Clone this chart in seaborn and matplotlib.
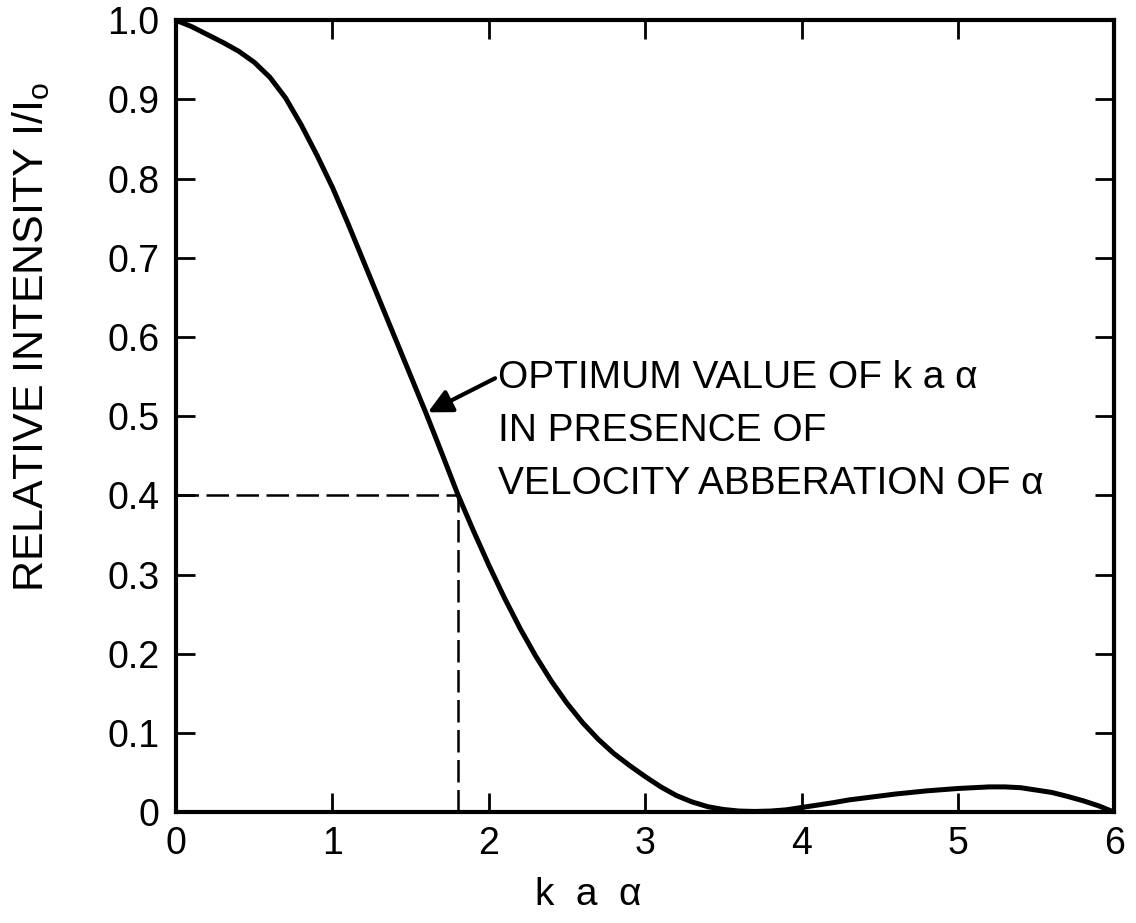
import matplotlib
matplotlib.use("Agg")
import matplotlib.pyplot as plt
import seaborn as sns
import pandas as pd

# Data
ka_alpha = [0.0, 0.1, 0.2, 0.3, 0.4, 0.5, 0.6, 0.7, 0.8, 0.9, 1.0,
            1.1, 1.2, 1.3, 1.4, 1.5, 1.6, 1.7, 1.8, 1.9, 2.0,
            2.1, 2.2, 2.3, 2.4, 2.5, 2.6, 2.7, 2.8, 2.9, 3.0,
            3.1, 3.2, 3.3, 3.4, 3.5, 3.6, 3.7, 3.8, 3.9, 4.0,
            4.1, 4.2, 4.3, 4.4, 4.5, 4.6, 4.7, 4.8, 4.9, 5.0,
            5.1, 5.2, 5.3, 5.4, 5.5, 5.6, 5.7, 5.8, 5.9, 6.0]
intensity = [1.0, 0.992, 0.982, 0.972, 0.961, 0.947, 0.928, 0.902, 0.868, 0.83, 0.789,
             0.743, 0.695, 0.647, 0.599, 0.551, 0.503, 0.453, 0.402, 0.356, 0.312,
             0.2705, 0.232, 0.197, 0.1655, 0.1375, 0.113, 0.092, 0.074, 0.059, 0.045,
             0.032, 0.021, 0.013, 0.007, 0.0035, 0.0015, 0.001, 0.0015, 0.003, 0.006,
             0.009, 0.012, 0.0155, 0.018, 0.0205, 0.023, 0.025, 0.027, 0.0285, 0.030,
             0.031, 0.032, 0.032, 0.031, 0.028, 0.025, 0.020, 0.0145, 0.008, 0.0]
x_ticks = [0, 1, 2, 3, 4, 5, 6]
x_ticklabels = ["0", "1", "2", "3", "4", "5", "6"]
y_ticks = [0.0, 0.1, 0.2, 0.3, 0.4, 0.5, 0.6, 0.7, 0.8, 0.9, 1.0]
y_ticklabels = ["0", "0.1", "0.2", "0.3", "0.4", "0.5", "0.6", "0.7", "0.8", "0.9", "1.0"]
optimum_x = 1.8
optimum_y = 0.4
arrow_target = (1.61, 0.505)
annotation_lines = ["OPTIMUM VALUE OF k a α", "IN PRESENCE OF",
                    "VELOCITY ABBERATION OF α"]

sns.set_theme(style="ticks")
plt.rcParams["font.family"] = ["Liberation Sans", "DejaVu Sans"]
plt.rcParams["mathtext.fontset"] = "custom"
plt.rcParams["mathtext.rm"] = "Liberation Sans"
plt.rcParams["text.color"] = "black"
plt.rcParams["axes.labelcolor"] = "black"

fig = plt.figure(figsize=(11.36, 9.23), dpi=100)
fig.patch.set_facecolor("white")
ax = fig.add_axes([0.155, 0.120, 0.826, 0.858])
ax.set_facecolor("white")

df = pd.DataFrame({"x": ka_alpha, "y": intensity})
sns.lineplot(data=df, x="x", y="y", ax=ax, color="black", linewidth=3.6,
             sort=False, estimator=None)

# dashed guide lines
ax.plot([0, optimum_x], [optimum_y, optimum_y], color="black", lw=1.8,
        dashes=(9, 3))
ax.plot([optimum_x, optimum_x], [0, optimum_y], color="black", lw=1.8,
        dashes=(9, 3))

ax.set_xlim(0, 6)
ax.set_ylim(0, 1.0)
ax.set_xticks(x_ticks)
ax.set_xticklabels(x_ticklabels)
ax.set_yticks(y_ticks)
ax.set_yticklabels(y_ticklabels)

for s in ax.spines.values():
    s.set_visible(True)
    s.set_linewidth(3)
    s.set_color("black")

ax.tick_params(axis="both", which="major", direction="in", length=14, width=2,
               labelsize=27, colors="black", labelcolor="black",
               top=True, right=True, labeltop=False, labelright=False)
ax.tick_params(axis="x", pad=10)
ax.tick_params(axis="y", pad=12)

ax.set_xlabel("k  a  α", fontsize=28, color="black")
ax.xaxis.label.set_va("center")
ax.xaxis.set_label_coords(0.439, -0.105)
ax.set_ylabel(r"RELATIVE INTENSITY I/I$_\mathregular{o}$", fontsize=31,
              color="black")
ax.yaxis.label.set_va("center")
ax.yaxis.set_label_coords(-0.154, 0.60)

# annotation
ax.annotate("", xy=arrow_target, xytext=(2.04, 0.548),
            arrowprops=dict(arrowstyle="-|>", color="black", lw=3,
                            mutation_scale=36, shrinkA=0, shrinkB=0))
for i, line in enumerate(annotation_lines):
    ax.text(2.06, 0.548 - i * 0.067, line, fontsize=28, ha="left",
            va="center", color="black")

fig.savefig("out.png", dpi=100, facecolor="white")
